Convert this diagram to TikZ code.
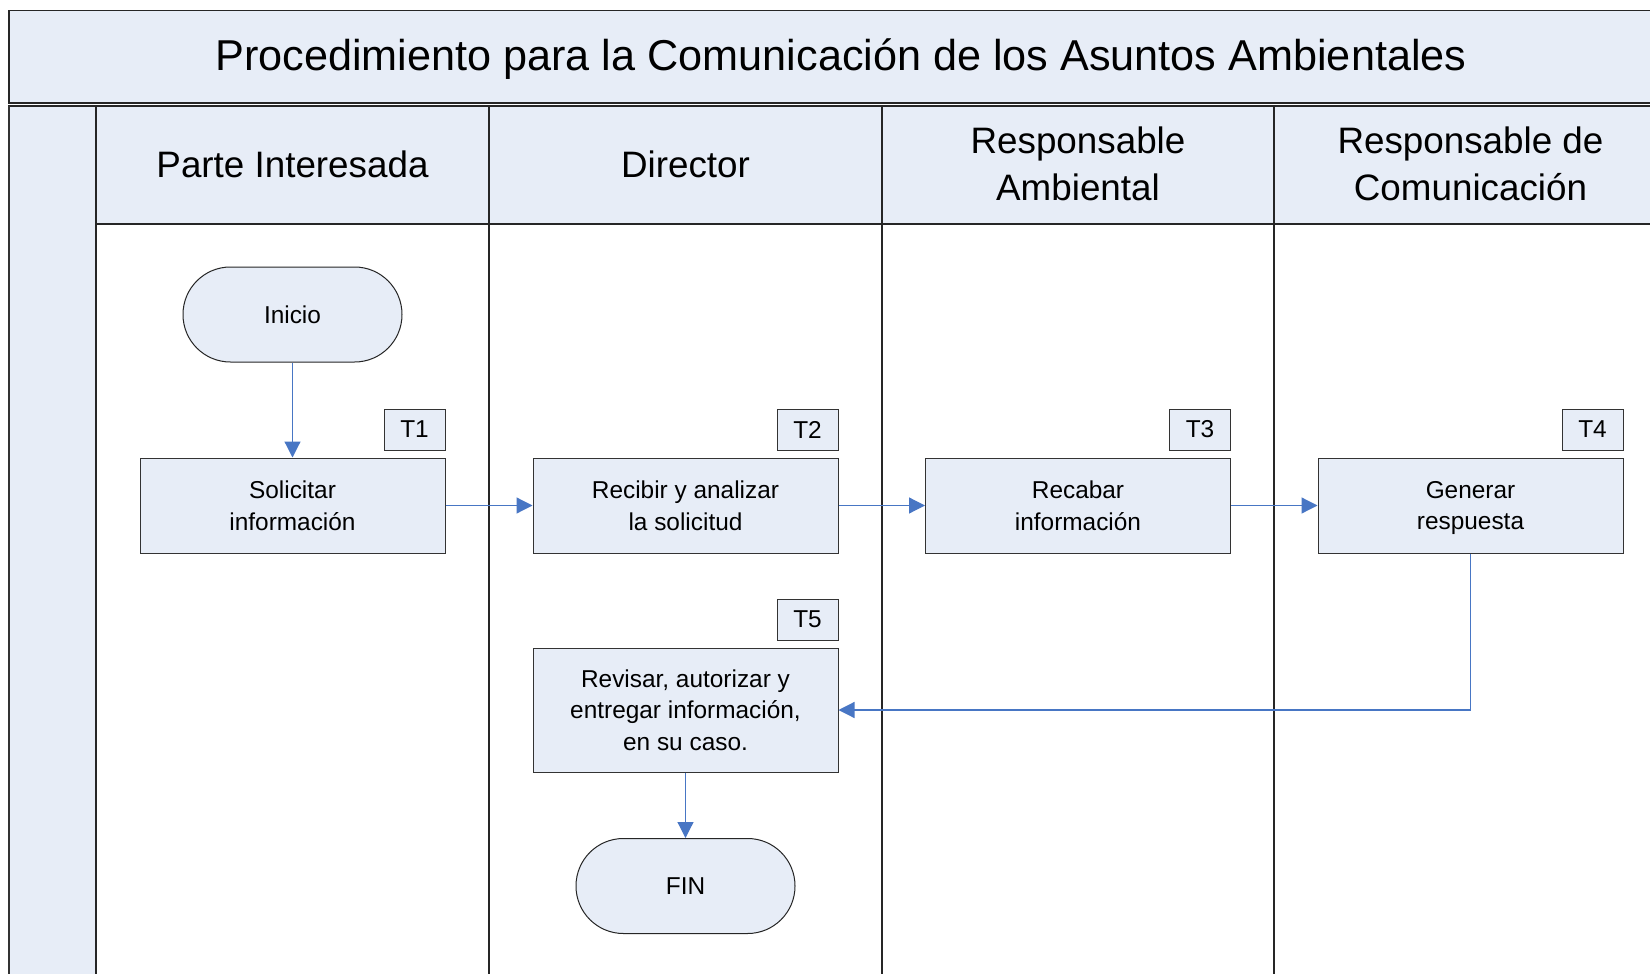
\documentclass[tikz,border=0pt]{standalone}
\usepackage{fontspec}
\setmainfont{Liberation Sans}
\usetikzlibrary{arrows.meta,positioning}
\definecolor{lightfill}{RGB}{231,237,247}
\definecolor{conn}{RGB}{72,118,196}
\tikzset{
  frame/.style={draw=black!85, line width=0.6pt},
  task/.style={draw=black!80, line width=0.5pt, fill=lightfill, minimum width=152.5pt, minimum height=47.5pt, align=center, inner sep=2pt, text depth=0pt, font=\fontsize{12.2}{15.8}\selectfont},
  tag/.style={draw=black!80, line width=0.5pt, fill=lightfill, minimum width=30.5pt, minimum height=20.5pt, inner sep=0pt, font=\fontsize{12.2}{15.8}\selectfont},
  term/.style={draw=black!85, line width=0.5pt, fill=lightfill, minimum width=109.5pt, minimum height=47.5pt, rounded corners=23.7pt, font=\fontsize{12.2}{15.8}\selectfont},
  hdr/.style={align=center, font=\fontsize{18.4}{23.5}\selectfont},
  flow/.style={draw=conn, line width=0.6pt, -{Triangle[length=8pt,width=8pt]}},
}
\begin{document}
\begin{tikzpicture}[x=0.5pt,y=-0.5pt]
\useasboundingbox (0,0) rectangle (1650,974);
\clip (0,0) rectangle (1650,974);
% title
\fill[white] (0,0) rectangle (1650,974);
\draw[frame, fill=lightfill] (9,10.7) rectangle (1700,103);
\node[font=\fontsize{21.6}{26}\selectfont] (title) at (841,59) {Procedimiento para la Comunicación de los Asuntos Ambientales};
% lanes frame
\draw[frame, fill=white] (9,106) rectangle (1700,1010);
\draw[frame, fill=lightfill] (9,106) rectangle (96,1010);
\draw[frame, fill=lightfill] (96,106) rectangle (1700,224);
\draw[frame] (489,106) -- (489,1010);
\draw[frame] (882,106) -- (882,1010);
\draw[frame] (1274,106) -- (1274,1010);
\draw[line width=1.2pt, black!80] (9,106) -- (9,1010);
% headers
\node[hdr] (h1) at (292.5,164) {Parte Interesada};
\node[hdr] (h2) at (685.5,164) {Director};
\node[hdr] (h3) at (1078,164) {Responsable\\Ambiental};
\node[hdr] (h4) at (1470.5,164) {Responsable de\\Comunicación};
% nodes
\node[term] (inicio) at (292.5,314.5) {Inicio};
\node[task] (t1) at (292.5,505.5) {Solicitar\\información};
\node[task] (t2) at (685.5,505.5) {Recibir y analizar\\la solicitud};
\node[task] (t3) at (1078,505.5) {Recabar\\información};
\node[task] (t4) at (1470.5,505.5) {Generar\\respuesta};
\node[task, minimum height=62pt] (t5) at (685.5,710) {Revisar, autorizar y\\entregar información,\\en su caso.};
\node[term] (fin) at (685.5,886) {FIN};
% tags
\foreach \t/\l in {t1/T1,t2/T2,t3/T3,t4/T4,t5/T5}{
  \node[tag, anchor=south east] (tag\t) at ([yshift=3.5pt]\t.north east) {\l};
}
% connectors
\draw[flow] (inicio) -- (t1);
\draw[flow] (t1) -- (t2);
\draw[flow] (t2) -- (t3);
\draw[flow] (t3) -- (t4);
\draw[flow] (t4.south) |- (t5.east);
\draw[flow] (t5) -- (fin);
\end{tikzpicture}
\end{document}
